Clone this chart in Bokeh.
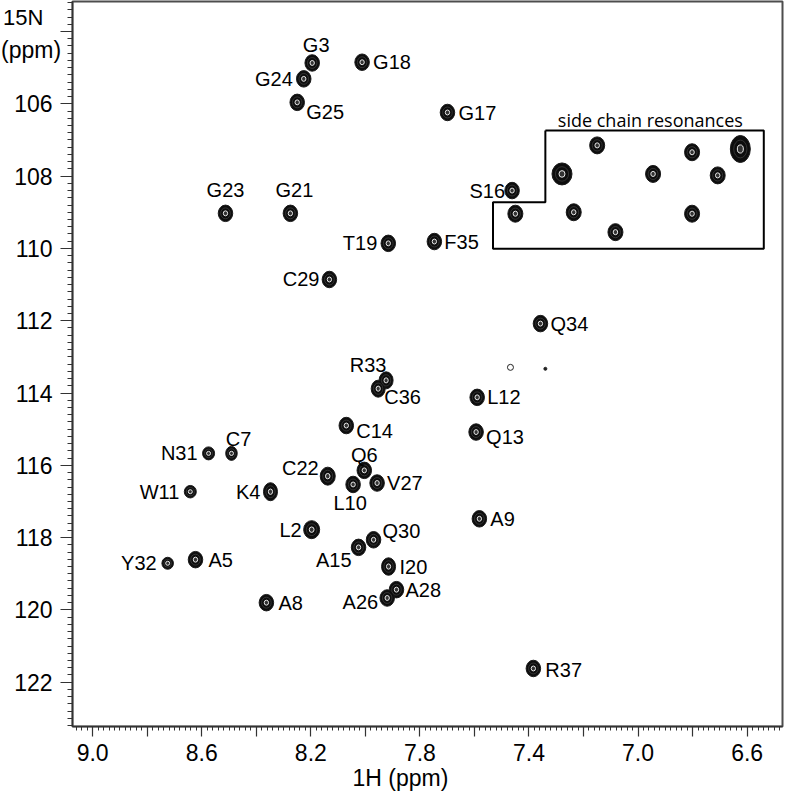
import numpy as np
from bokeh.plotting import figure
from bokeh.models import Range1d, FixedTicker, ColumnDataSource, Label, Title, Div
from bokeh.core.properties import value
from bokeh.embed import file_html
from bokeh.resources import INLINE

# ---------------- data ----------------
peak_names = ["G3", "G24", "G25", "G18", "G17", "G23", "G21", "S16", "T19", "F35",
              "C29", "Q34", "R33", "C36", "C14", "L12", "Q13", "C7", "N31", "C22",
              "Q6", "L10", "V27", "W11", "K4", "L2", "A9", "Q30", "A15", "I20",
              "A28", "A26", "Y32", "A5", "A8", "R37"]
peak_h = [8.195, 8.226, 8.250, 8.012, 7.699, 8.513, 8.275, 7.462, 7.916, 7.747,
          8.132, 7.358, 7.924, 7.953, 8.070, 7.590, 7.594, 8.491, 8.575, 8.138,
          8.004, 8.045, 7.957, 8.642, 8.348, 8.197, 7.582, 7.970, 8.025, 7.915,
          7.886, 7.920, 8.725, 8.623, 8.363, 7.384]
peak_n = [104.87, 105.31, 105.96, 104.85, 106.24, 109.03, 109.03, 108.40, 109.86, 109.81,
          110.86, 112.08, 113.65, 113.88, 114.90, 114.12, 115.08, 115.67, 115.67, 116.30,
          116.14, 116.53, 116.49, 116.73, 116.73, 117.78, 117.48, 118.06, 118.27, 118.80,
          119.44, 119.67, 118.71, 118.61, 119.80, 121.62]

side_h = [7.150, 7.279, 6.802, 6.625, 6.945, 6.708, 7.450, 7.236, 7.083, 6.802]
side_n = [107.15, 107.94, 107.34, 107.25, 107.94, 107.98, 109.04, 109.00, 109.55, 109.04]

weak_h = [7.468, 7.340]
weak_n = [113.29, 113.33]

box_h = [7.340, 6.539, 6.539, 7.532, 7.532, 7.340, 7.340]
box_n = [106.74, 106.74, 110.01, 110.01, 108.72, 108.72, 106.74]

x_tick_values = [9.0, 8.6, 8.2, 7.8, 7.4, 7.0, 6.6]
x_tick_labels = ["9.0", "8.6", "8.2", "7.8", "7.4", "7.0", "6.6"]
y_tick_values = [106, 108, 110, 112, 114, 116, 118, 120, 122]
y_tick_labels = ["106", "108", "110", "112", "114", "116", "118", "120", "122"]

x_title = "1H (ppm)"
y_title = ["15N", "(ppm)"]
box_title = "side chain resonances"

# ---------------- style ----------------
FONT = "Liberation Sans"
LABEL_PX = "20px"
TICK_PX = "23px"

# label placement: (dx, dy, align) in screen pixels, dy positive = down
label_place = {
    "G3": (4, -18, "center"), "G24": (-11, 0, "right"), "G25": (9, 10, "left"),
    "G18": (11, 0, "left"), "G17": (11, 1, "left"), "G23": (0, -23, "center"),
    "G21": (4, -23, "center"), "S16": (-7, 0, "right"), "T19": (-11, 0, "right"),
    "F35": (10, 0, "left"), "C29": (-10, 0, "right"), "Q34": (10, 0, "left"),
    "R33": (-18, -15, "center"), "C36": (6, 8, "left"), "C14": (10, 5, "left"),
    "L12": (10, 0, "left"), "Q13": (10, 5, "left"), "C7": (7, -14, "center"),
    "N31": (-11, 0, "right"), "C22": (-9, -8, "right"), "Q6": (0, -15, "center"),
    "L10": (-3, 19, "center"), "V27": (10, 0, "left"), "W11": (-11, 0, "right"),
    "K4": (-10, 0, "right"), "L2": (-10, 0, "right"), "A9": (11, 0, "left"),
    "Q30": (9, -9, "left"), "A15": (-7, 13, "right"), "I20": (11, 0, "left"),
    "A28": (9, 0, "left"), "A26": (-9, 4, "right"), "Y32": (-11, 0, "right"),
    "A5": (13, 0, "left"), "A8": (12, 0, "left"), "R37": (12, 2, "left"),
}
size_override = {"Y32": (11.5, 12), "W11": (12, 12.5), "N31": (12, 13), "C7": (11.5, 14),
                 "K4": (14, 18), "L2": (16, 18), "C22": (15, 18), "I20": (14, 17.5),
                 "R33": (14, 17), "C36": (14, 17)}
side_size = [(15, 17), (20, 22), (15, 17), (20, 27), (15, 17), (15, 17),
             (15, 17), (15, 17), (15, 17), (15, 17)]
DEFAULT_SIZE = (14.5, 16.5)

X0, X1 = 9.074, 6.4704
Y_TOP, Y_BOT = 103.17, 123.225

p = figure(width=784, height=796,
           x_range=Range1d(X0, X1), y_range=Range1d(Y_BOT, Y_TOP),
           output_backend="svg", toolbar_location=None,
           min_border_left=72, min_border_right=2, min_border_top=1, min_border_bottom=70)
p.background_fill_color = "white"
p.border_fill_color = "white"
p.xgrid.visible = False
p.ygrid.visible = False
p.outline_line_color = "#4d4d4d"
p.outline_line_width = 2

# axes
x_major = [round(v, 2) for v in np.arange(6.6, 9.001, 0.2)]
x_minor = [round(v, 2) for v in np.arange(6.48, 9.075, 0.02)]
p.xaxis.ticker = FixedTicker(ticks=x_major, minor_ticks=x_minor)
xlab = dict(zip([round(v, 2) for v in x_tick_values], x_tick_labels))
p.xaxis.major_label_overrides = {v: xlab.get(v, "") for v in x_major}

y_major = [104] + y_tick_values
y_minor = [round(v, 1) for v in np.arange(103.2, 123.21, 0.2)]
p.yaxis.ticker = FixedTicker(ticks=y_major, minor_ticks=y_minor)
ylab = dict(zip(y_tick_values, y_tick_labels))
p.yaxis.major_label_overrides = {v: ylab.get(v, "") for v in y_major}

for ax in (p.xaxis[0], p.yaxis[0]):
    ax.axis_line_color = "#333333"
    ax.axis_line_width = 1.5
    ax.major_tick_line_color = "#333333"
    ax.minor_tick_line_color = "#333333"
    ax.major_tick_line_width = 1.2
    ax.minor_tick_line_width = 1
    ax.major_tick_in = 0
    ax.minor_tick_in = 0
    ax.major_label_text_font = FONT
    ax.major_label_text_font_size = TICK_PX
    ax.major_label_text_color = "black"

p.xaxis.major_tick_out = 10
p.xaxis.minor_tick_out = 4
p.xaxis.major_label_standoff = 7
p.yaxis.major_tick_out = 12
p.yaxis.minor_tick_out = 5
p.yaxis.major_label_standoff = 8

# peaks
pw = [size_override.get(n, DEFAULT_SIZE)[0] for n in peak_names]
ph = [size_override.get(n, DEFAULT_SIZE)[1] for n in peak_names]


def contour_source(xs, ys, ws, hs):
    return ColumnDataSource(dict(x=xs, y=ys, w=ws, h=hs,
                                 w2=[v * 0.66 for v in ws], h2=[v * 0.66 for v in hs],
                                 w3=[max(v * 0.3, 4) for v in ws], h3=[max(v * 0.3, 4) for v in hs]))


src = contour_source(peak_h, peak_n, pw, ph)
side_src = contour_source(side_h, side_n, [s[0] for s in side_size], [s[1] for s in side_size])
for s in (src, side_src):
    p.ellipse(x="x", y="y", width="w", height="h", width_units="screen", height_units="screen",
              source=s, fill_color="#0d0d0d", line_color="#1a1a1a", line_width=1)
    p.ellipse(x="x", y="y", width="w2", height="h2", width_units="screen", height_units="screen",
              source=s, fill_color=None, line_color="#3c3c3c", line_width=0.8)
    p.ellipse(x="x", y="y", width="w3", height="h3", width_units="screen", height_units="screen",
              source=s, fill_color="#333333", line_color="#e8e8e8", line_width=1)

# weak contours
p.scatter(x=weak_h[:1], y=weak_n[:1], size=6, marker="circle", fill_color=None,
          line_color="#222222", line_width=1)
p.scatter(x=weak_h[1:], y=weak_n[1:], size=3, marker="circle", fill_color="#222222",
          line_color="#222222")

# side chain box
p.line(x=box_h, y=box_n, line_color="black", line_width=2)

# peak labels
for align in ("left", "right", "center"):
    idx = [i for i, n in enumerate(peak_names) if label_place[n][2] == align]
    lsrc = ColumnDataSource(dict(
        x=[peak_h[i] for i in idx], y=[peak_n[i] for i in idx],
        t=[peak_names[i] for i in idx],
        dx=[label_place[peak_names[i]][0] for i in idx],
        dy=[label_place[peak_names[i]][1] for i in idx]))
    p.text(x="x", y="y", text="t", x_offset="dx", y_offset="dy", source=lsrc,
           text_align=align, text_baseline="middle", text_font=value(FONT),
           text_font_size=LABEL_PX, text_color="black")

p.add_layout(Label(x=6.955, y=106.46, text=box_title, text_align="center",
                   text_baseline="middle", text_font="Open Sans", text_font_size="18px",
                   text_color="black"))

# x axis title, as a title below the axis, shifted left like the original
p.add_layout(Title(text=x_title, align="left", offset=280, standoff=0,
                   text_font=FONT, text_font_size="23px", text_font_style="normal",
                   text_color="black", vertical_align="middle"), "below")

# y axis title at the top-left corner, as floating elements of the plot
div_style = {"position": "absolute", "color": "black", "z-index": "10",
             "margin": "0", "padding": "0", "font-family": FONT, "white-space": "nowrap"}
y_div1 = Div(text=y_title[0], styles=dict(div_style, left="3px", top="5px",
                                          **{"font-size": "22px", "line-height": "26px"}))
y_div2 = Div(text=y_title[1], styles=dict(div_style, left="1px", top="36px",
                                          **{"font-size": "23px", "line-height": "28px"}))
try:
    p.elements = [y_div1, y_div2]
except Exception:
    pass

open("out.html", "w").write(file_html(p, INLINE))
